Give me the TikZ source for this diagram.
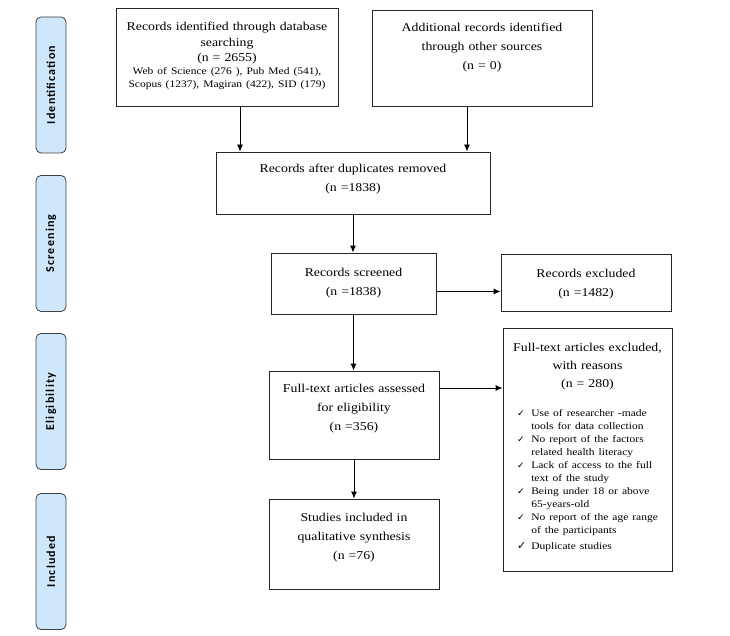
\documentclass[tikz,border=0pt]{standalone}
\usepackage{fontspec}
\setmainfont{Liberation Serif}[FakeStretch=1.15]
\newfontfamily\tabfont{Carlito}[LetterSpace=10]
\newfontfamily\symfont{DejaVu Sans}
\usepackage{tikz}
\usetikzlibrary{arrows.meta}

\definecolor{tabblue}{RGB}{206,231,251}
\newcommand{\chk}[1][9]{{\symfont\fontsize{#1}{#1}\selectfont ✓}}

\tikzset{
  box/.style={draw=black!85, line width=0.9pt, align=center, inner xsep=4pt, inner ysep=0pt, font=\fontsize{12}{19}\selectfont},
  tab/.style={draw=black!75, line width=0.8pt, fill=tabblue, rounded corners=5pt, rotate=90, minimum width=136pt, minimum height=30pt, inner sep=0pt, font=\tabfont\bfseries\fontsize{12}{14}\selectfont},
  arr/.style={-{Latex[length=7pt,width=6pt]}, line width=0.9pt}
}

\begin{document}
\begin{tikzpicture}[x=1pt, y=-1pt]
\useasboundingbox (0,0) rectangle (730,636);

% phase tabs
\node[tab] (tabid) at (51,85) {Identification};
\node[tab] (tabsc) at (51,243.5) {Screening};
\node[tab] (tabel) at (51,401.5) {Eligibility};
\node[tab] (tabin) at (51,561.5) {Included};

% boxes
\node[box, text width=214pt, text height=23pt, text depth=75pt] (db) at (227,57)
  {\fontsize{12}{15.5}\selectfont Records identified through database\\ searching\\ (n = 2655)\par
   {\fontsize{10}{13}\selectfont Web of Science (276 ), Pub Med (541),\\ Scopus (1237), Magiran (422), SID (179)\par}};
\node[box, text width=212pt, text height=22pt, text depth=74pt] (oth) at (482,58)
  {Additional records identified\\ through other sources\\ (n = 0)};
\node[box, text width=266pt, text height=21pt, text depth=41pt] (dup) at (353,183)
  {Records after duplicates removed\\ (n =1838)};
\node[box, text width=157pt, text height=23pt, text depth=38pt] (scr) at (353.5,283.5)
  {Records screened\\ (n =1838)};
\node[box, text width=162pt, text height=23pt, text depth=34pt] (exc) at (586,282.5)
  {Records excluded\\ (n =1482)};
\node[box, text width=162pt, text height=21pt, text depth=67pt] (full) at (354,415)
  {Full-text articles assessed\\ for eligibility\\ (n =356)};
\node[box, text width=162pt, text height=22pt, text depth=68pt] (inc) at (354,544)
  {Studies included in\\ qualitative synthesis\\ (n =76)};
\node[box, text width=161pt, font=\fontsize{12}{18}\selectfont, text height=23pt, text depth=220pt] (rea) at (587.5,449.5)
  {Full-text articles excluded,\\ with reasons\\ (n = 280)\\[11pt]
   {\fontsize{10}{13}\selectfont
   \begin{tabular}[t]{@{}l@{\hspace{5pt}}l@{}}
   \chk & Use of researcher -made\\
        & tools for data collection\\
   \chk & No report of the factors\\
        & related health literacy\\
   \chk & Lack of access to the full\\
        & text of the study\\
   \chk & Being under 18 or above\\
        & 65-years-old\\
   \chk & No report of the age range\\
        & of the participants\\[3pt]
   \chk[11] & Duplicate studies
   \end{tabular}}};

% arrows
\draw[arr] ([xshift=13pt]db.south) -- ([xshift=13pt]db.south |- dup.north);
\draw[arr] ([xshift=-15pt]oth.south) -- ([xshift=-15pt]oth.south |- dup.north);
\draw[arr] (dup.south) -- (dup.south |- scr.north);
\draw[arr] ([yshift=-8pt]scr.east) -- ([yshift=-8pt]scr.east -| exc.west);
\draw[arr] (scr.south) -- (scr.south |- full.north);
\draw[arr] ([yshift=27pt]full.east) -- ([yshift=27pt]full.east -| rea.west);
\draw[arr] (full.south) -- (full.south |- inc.north);
\end{tikzpicture}
\end{document}
